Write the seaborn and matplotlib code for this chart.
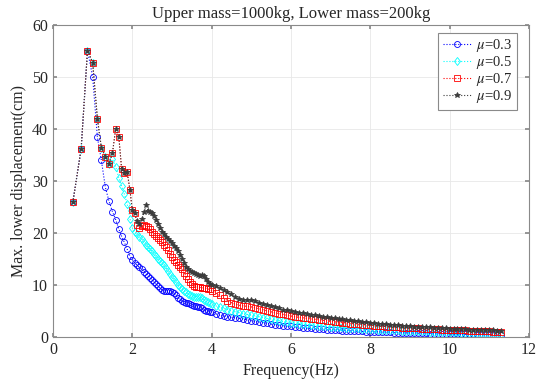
import pandas as pd
import matplotlib
matplotlib.use("Agg")
import matplotlib.pyplot as plt
import seaborn as sns

# frequency grid (Hz), shared by all four series
freq = [0.5, 0.71, 0.87, 1.0, 1.12, 1.22, 1.32, 1.41, 1.5, 1.58,
        1.66, 1.73, 1.8, 1.87, 1.94, 2.0, 2.06, 2.12, 2.18,
        2.25, 2.3, 2.35, 2.4, 2.45, 2.5, 2.55, 2.6, 2.65, 2.7,
        2.75, 2.8, 2.85, 2.9, 2.95, 3.0, 3.05, 3.1, 3.15, 3.2,
        3.25, 3.3, 3.35, 3.4, 3.45, 3.5, 3.55, 3.6, 3.65, 3.7,
        3.75, 3.8, 3.85, 3.9, 3.95, 4.0,
        4.1, 4.2, 4.3, 4.4, 4.5, 4.6, 4.7, 4.8, 4.9, 5.0,
        5.1, 5.2, 5.3, 5.4, 5.5, 5.6, 5.7, 5.8, 5.9, 6.0,
        6.1, 6.2, 6.3, 6.4, 6.5, 6.6, 6.7, 6.8, 6.9, 7.0,
        7.1, 7.2, 7.3, 7.4, 7.5, 7.6, 7.7, 7.8, 7.9, 8.0,
        8.1, 8.2, 8.3, 8.4, 8.5, 8.6, 8.7, 8.8, 8.9, 9.0,
        9.1, 9.2, 9.3, 9.4, 9.5, 9.6, 9.7, 9.8, 9.9, 10.0,
        10.1, 10.2, 10.3, 10.4, 10.5, 10.6, 10.7, 10.8, 10.9, 11.0,
        11.1, 11.2, 11.3]

# max lower displacement (cm) for each friction coefficient
mu03 = [25.9, 36.2, 55.1, 50.1, 38.4, 34.0, 28.8, 26.2, 24.1, 22.6,
        20.8, 19.4, 18.2, 16.9, 15.6, 14.9, 14.3, 13.8, 13.4,
        13.0, 12.6, 12.2, 11.8, 11.4, 11.0, 10.6, 10.2, 9.8, 9.4,
        9.1, 8.9, 8.9, 8.9, 8.9, 8.7, 8.4, 8.0, 7.6, 7.3,
        7.0, 6.8, 6.6, 6.5, 6.3, 6.2, 6.0, 5.9, 5.8, 5.7,
        5.5, 5.3, 5.1, 5.0, 4.9, 4.8,
        4.5, 4.2, 4.05, 3.9, 3.8, 3.7, 3.6, 3.45, 3.3, 3.15,
        3.0, 2.9, 2.8, 2.65, 2.5, 2.4, 2.3, 2.2, 2.1, 2.05,
        1.95, 1.9, 1.8, 1.72, 1.65, 1.6, 1.55, 1.5, 1.45, 1.4,
        1.35, 1.3, 1.26, 1.22, 1.18, 1.15, 1.12, 1.08, 1.05, 1.02,
        0.99, 0.96, 0.94, 0.91, 0.89, 0.86, 0.84, 0.82, 0.8, 0.78,
        0.76, 0.74, 0.72, 0.7, 0.68, 0.66, 0.64, 0.62, 0.61, 0.59,
        0.57, 0.56, 0.54, 0.53, 0.51, 0.5, 0.48, 0.47, 0.46, 0.44,
        0.43, 0.42, 0.41]

mu05 = [25.9, 36.2, 55.1, 52.8, 42.0, 36.4, 34.7, 33.2, 34.2, 32.8,
        30.6, 29.0, 27.5, 25.6, 22.8, 21.0, 20.3, 19.8, 19.3,
        18.8, 18.3, 17.8, 17.3, 16.9, 16.5, 16.0, 15.5, 15.1, 14.7,
        14.3, 13.8, 13.3, 12.8, 12.2, 11.6, 11.1, 10.6, 10.1, 9.7,
        9.3, 8.9, 8.6, 8.3, 8.1, 7.9, 7.8, 7.8, 7.8, 7.7,
        7.5, 7.2, 6.9, 6.7, 6.5, 6.3,
        6.0, 5.8, 5.6, 5.3, 5.1, 4.9, 4.7, 4.5, 4.35, 4.2,
        4.05, 3.9, 3.75, 3.6, 3.45, 3.3, 3.15, 3.0, 2.9, 2.8,
        2.7, 2.6, 2.5, 2.42, 2.35, 2.28, 2.2, 2.14, 2.08, 2.02,
        1.96, 1.9, 1.85, 1.8, 1.75, 1.7, 1.65, 1.61, 1.57, 1.53,
        1.49, 1.45, 1.41, 1.38, 1.34, 1.31, 1.28, 1.25, 1.22, 1.19,
        1.16, 1.13, 1.1, 1.08, 1.05, 1.03, 1.0, 0.98, 0.96, 0.93,
        0.91, 0.89, 0.87, 0.85, 0.83, 0.81, 0.79, 0.77, 0.75, 0.73,
        0.71, 0.7, 0.68]

mu07 = [25.9, 36.2, 55.1, 52.8, 42.0, 36.4, 34.7, 33.2, 35.4, 40.0,
        38.5, 32.4, 31.6, 31.8, 28.3, 24.4, 23.9, 21.5, 21.0,
        21.4, 21.6, 21.4, 21.1, 20.7, 20.3, 19.9, 19.5, 19.1, 18.7,
        18.3, 17.8, 17.3, 16.7, 16.0, 15.4, 14.9, 14.4, 13.9, 13.4,
        13.0, 12.4, 11.8, 11.2, 10.6, 10.2, 9.9, 9.7, 9.6, 9.55,
        9.5, 9.45, 9.4, 9.3, 9.15, 8.95,
        8.5, 8.0, 7.5, 7.0, 6.6, 6.3, 6.1, 6.0, 5.9, 5.8,
        5.6, 5.45, 5.25, 5.05, 4.85, 4.65, 4.5, 4.35, 4.2, 4.05,
        3.9, 3.8, 3.7, 3.6, 3.5, 3.4, 3.3, 3.2, 3.1, 3.0,
        2.92, 2.84, 2.76, 2.68, 2.6, 2.53, 2.46, 2.39, 2.32, 2.26,
        2.2, 2.14, 2.08, 2.03, 1.98, 1.93, 1.88, 1.83, 1.79, 1.75,
        1.71, 1.67, 1.63, 1.59, 1.55, 1.52, 1.48, 1.45, 1.42, 1.39,
        1.36, 1.33, 1.3, 1.27, 1.24, 1.21, 1.18, 1.15, 1.12, 1.09,
        1.06, 1.03, 1.0]

mu09 = [25.9, 36.2, 55.1, 52.8, 42.0, 36.4, 34.7, 33.2, 35.4, 40.0,
        38.5, 32.4, 31.6, 31.8, 28.3, 24.4, 23.9, 22.3, 21.8,
        22.8, 24.0, 25.4, 24.2, 24.0, 23.8, 23.3, 22.5, 21.8, 21.0,
        20.3, 19.8, 19.3, 18.9, 18.4, 18.0, 17.6, 17.2, 16.6, 15.8,
        15.0, 14.2, 13.5, 13.0, 12.7, 12.5, 12.3, 12.1, 11.9, 11.8,
        11.9, 11.7, 11.1, 10.6, 10.3, 10.1,
        9.8, 9.5, 9.1, 8.6, 8.2, 7.8, 7.4, 7.2, 7.2, 7.2,
        7.0, 6.6, 6.3, 6.1, 5.9, 5.7, 5.5, 5.3, 5.15, 5.0,
        4.85, 4.7, 4.55, 4.4, 4.3, 4.2, 4.1, 3.95, 3.8, 3.7,
        3.6, 3.5, 3.4, 3.3, 3.2, 3.1, 3.0, 2.92, 2.84, 2.76,
        2.68, 2.6, 2.52, 2.45, 2.38, 2.32, 2.26, 2.2, 2.14, 2.08,
        2.03, 1.98, 1.93, 1.88, 1.84, 1.8, 1.76, 1.72, 1.68, 1.64,
        1.6, 1.56, 1.52, 1.48, 1.45, 1.42, 1.39, 1.36, 1.33, 1.3,
        1.27, 1.24, 1.21]

df = pd.DataFrame({"freq": freq, "mu03": mu03, "mu05": mu05,
                   "mu07": mu07, "mu09": mu09})

sns.set_theme(style="ticks")
plt.rcParams["font.family"] = ["Liberation Serif", "DejaVu Serif"]
plt.rcParams["mathtext.fontset"] = "stix"

fig, ax = plt.subplots(figsize=(5.38, 3.80), dpi=100)
fig.subplots_adjust(left=0.0985, right=0.983, top=0.934, bottom=0.113)

# (column, label, colour, marker, size, filled)
series = [
    ("mu03", r"$\mu$=0.3", "blue", "o", 4.3, False),
    ("mu05", r"$\mu$=0.5", "cyan", "d", 4.3, False),
    ("mu07", r"$\mu$=0.7", "red", "s", 3.8, False),
    ("mu09", r"$\mu$=0.9", "#3c3c3c", "*", 3.8, True),
]
for col, label, color, marker, ms, filled in series:
    sns.lineplot(data=df, x="freq", y=col, ax=ax, label=label,
                 color=color, linestyle=":", linewidth=0.8,
                 marker=marker, markersize=ms,
                 markerfacecolor=color if filled else "none",
                 markeredgecolor=color, markeredgewidth=0.6,
                 sort=False, estimator=None)

ax.set_xlim(0, 12)
ax.set_ylim(0, 60)
ax.set_xticks(range(0, 13, 2))
ax.set_yticks(range(0, 61, 10))
ax.grid(True, color="#e8e8e8", linewidth=0.6)
for side in ax.spines.values():
    side.set_color("#8a8a8a")
    side.set_linewidth(0.8)
ax.tick_params(direction="in", top=True, right=True, length=3,
               color="#8a8a8a", labelsize=11.5, labelcolor="#262626")

ax.set_title("Upper mass=1000kg, Lower mass=200kg", fontsize=12, color="#262626", pad=5)
ax.set_xlabel("Frequency(Hz)", fontsize=11.5, color="#262626")
ax.set_ylabel("Max. lower displacement(cm)", fontsize=11.5, color="#262626")

leg = ax.legend(loc="upper right", bbox_to_anchor=(0.975, 0.975), fontsize=10.5,
                fancybox=False, framealpha=1, edgecolor="#8a8a8a",
                borderaxespad=0, handlelength=2.0, borderpad=0.3,
                labelspacing=0.0, handletextpad=0.3)
leg.get_frame().set_linewidth(0.8)

plt.savefig("out.png", dpi=100)
